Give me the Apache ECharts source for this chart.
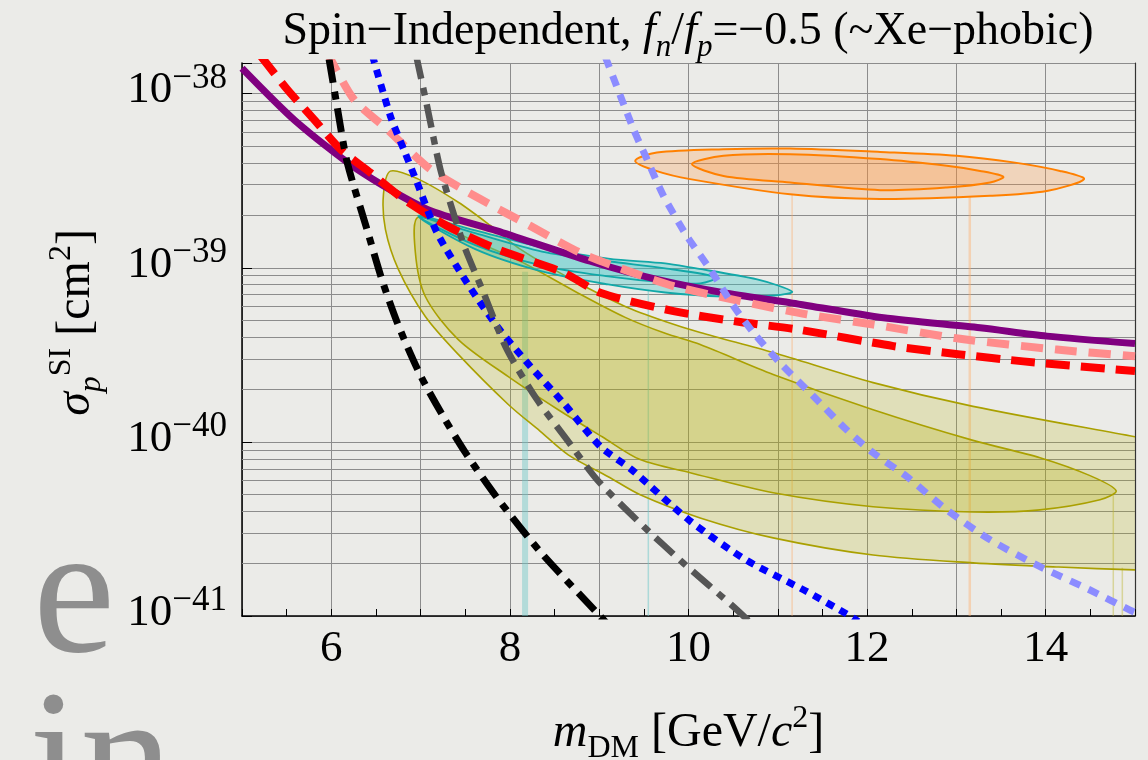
<!DOCTYPE html>
<html>
<head>
<meta charset="utf-8">
<script src="https://cdn.jsdelivr.net/npm/echarts@6/dist/echarts.min.js"></script>
<style>
html, body { margin:0; padding:0; background:#ebebe8; }
#chart { width:1148px; height:760px; }
</style>
</head>
<body>
<div id="chart"></div>
<script>
// ---------- axes ----------
const xRange = [5, 15];
const xTickLabels = [6, 8, 10, 12, 14];
const yRange = [1e-41, 1.5e-38];          // cm^2
const yMinorGrid = [
  2e-41, 3e-41, 4e-41, 5e-41, 6e-41, 7e-41, 8e-41, 9e-41,
  2e-40, 3e-40, 4e-40, 5e-40, 6e-40, 7e-40, 8e-40, 9e-40,
  2e-39, 3e-39, 4e-39, 5e-39, 6e-39, 7e-39, 8e-39, 9e-39
];
// plotting unit for the log axis (avoids float underflow in tick rounding)
const Y_UNIT = 1e-40;
const Y_UNIT_EXP = -40;

// ---------- exclusion curves [m_DM (GeV), sigma (cm^2)] ----------
const purpleLimit = [[5.0,1.40e-38],[5.597,6.98e-39],[6.29,3.68e-39],[7.07,2.17e-39],[7.855,1.63e-39],[8.9,1.09e-39],[9.646,8.57e-40],[10.392,7.19e-40],[11.138,6.30e-40],[12.183,5.16e-40],[13.265,4.52e-40],[14.012,4.05e-40],[15.0,3.67e-40]];
const redLimit = [[5.2,1.67e-38],[5.505,1.06e-38],[5.803,7.14e-39],[6.101,4.80e-39],[6.437,3.52e-39],[6.81,2.48e-39],[7.296,1.74e-39],[7.855,1.28e-39],[8.601,9.38e-40],[9.012,7.19e-40],[9.832,5.64e-40],[10.579,4.88e-40],[11.213,4.43e-40],[12.295,3.55e-40],[13.041,3.18e-40],[13.75,2.90e-40],[15.0,2.55e-40]];
const pinkLimit = [[5.95,1.74e-38],[6.25,9.31e-39],[6.624,6.25e-39],[7.109,3.68e-39],[7.668,2.48e-39],[8.228,1.74e-39],[8.788,1.22e-39],[9.272,9.79e-40],[9.832,7.85e-40],[10.579,6.43e-40],[11.325,5.40e-40],[12.071,4.72e-40],[13.041,3.91e-40],[14.124,3.39e-40],[15.0,3.10e-40]];
const blackLimit = [[5.975,1.58e-38],[6.064,8.51e-39],[6.176,4.07e-39],[6.40,1.66e-39],[6.568,8.51e-40],[6.75,4.68e-40],[7.0,2.40e-40],[7.25,1.41e-40],[7.5,8.71e-41],[7.855,4.79e-41],[8.34,2.34e-41],[8.993,1.02e-41],[9.1,8.9e-42]];
const grayLimit = [[6.95,1.66e-38],[7.072,8.51e-39],[7.221,3.68e-39],[7.389,1.90e-39],[7.501,1.28e-39],[7.705,7.19e-40],[7.967,3.39e-40],[8.303,1.75e-40],[8.639,1.03e-40],[8.975,6.07e-41],[9.496,3.27e-41],[9.944,2.01e-41],[10.504,1.13e-41],[10.7,9.1e-42]];
const blueLimit = [[6.46,1.66e-38],[6.661,7.46e-39],[6.81,4.80e-39],[6.96,3.09e-39],[7.184,1.59e-39],[7.52,8.20e-40],[7.855,4.62e-40],[8.228,2.72e-40],[8.601,1.67e-40],[9.012,9.42e-41],[9.364,6.92e-41],[10.007,3.55e-41],[10.649,2.09e-41],[11.292,1.41e-41],[11.81,1.0e-41],[11.9,9.3e-42]];
const lightBlueLimit = [[9.07,1.62e-38],[9.384,6.25e-39],[9.534,4.21e-39],[9.72,2.59e-39],[9.982,1.52e-39],[10.243,9.79e-40],[10.504,6.03e-40],[10.727,4.24e-40],[11.026,2.84e-40],[11.399,1.83e-40],[11.773,1.17e-40],[12.071,8.63e-41],[12.444,6.32e-41],[12.892,4.07e-41],[13.377,2.74e-41],[13.936,1.92e-41],[14.496,1.41e-41],[14.944,1.08e-41],[15.0,1.05e-41]];

// ---------- signal regions (closed contours) ----------
const oliveOuter = [[6.661,3.59e-39],[6.974,3.23e-39],[7.422,2.38e-39],[7.781,1.75e-39],[8.116,1.28e-39],[8.731,8.36e-40],[9.291,6.00e-40],[9.739,4.92e-40],[10.131,4.25e-40],[10.948,3.26e-40],[12.067,2.19e-40],[13.186,1.60e-40],[15.0,1.07e-40],[16.0,8.6e-41],[16.0,1.8e-41],[15.0,1.84e-41],[14.145,1.91e-41],[13.186,2.02e-41],[12.067,2.24e-41],[10.948,2.81e-41],[10.131,3.66e-41],[9.459,4.97e-41],[9.101,6.31e-41],[8.653,8.43e-41],[8.34,1.15e-40],[7.982,1.64e-40],[7.422,3.18e-40],[7.053,5.25e-40],[6.751,9.79e-40],[6.606,1.66e-39],[6.584,2.64e-39]];
const oliveInner = [[6.974,1.95e-39],[7.556,1.46e-39],[8.116,1.09e-39],[8.731,7.31e-40],[9.291,5.19e-40],[9.739,4.20e-40],[10.131,3.62e-40],[10.948,2.44e-40],[12.067,1.53e-40],[13.186,1.02e-40],[13.936,8.11e-41],[14.496,6.40e-41],[14.789,5.24e-41],[14.608,4.65e-41],[13.936,4.07e-41],[13.186,3.96e-41],[12.067,4.24e-41],[10.948,5.10e-41],[10.019,6.65e-41],[9.459,7.91e-41],[9.034,1.07e-40],[8.541,1.53e-40],[7.982,2.37e-40],[7.422,3.87e-40],[7.053,6.84e-40],[6.941,1.23e-39]];
const cyanOuter = [[6.974,1.98e-39],[7.612,1.64e-39],[8.359,1.31e-39],[9.101,1.13e-39],[9.739,1.06e-39],[10.019,1.005e-39],[10.769,8.57e-40],[11.16,7.3e-40],[10.97,6.93e-40],[10.388,6.84e-40],[9.739,7.21e-40],[9.101,8.02e-40],[8.359,9.53e-40],[7.612,1.28e-39]];
const cyanInner = [[6.997,1.95e-39],[7.612,1.58e-39],[8.359,1.24e-39],[9.101,1.09e-39],[9.739,9.93e-40],[10.311,8.81e-40],[10.132,8.13e-40],[9.739,8.24e-40],[9.101,8.93e-40],[8.359,1.03e-39],[7.612,1.35e-39]];
const orangeOuter = [[9.403,4.11e-39],[9.646,4.59e-39],[10.392,4.80e-39],[11.138,4.84e-39],[12.146,4.63e-39],[13.004,4.40e-39],[13.638,4.03e-39],[14.16,3.60e-39],[14.429,3.23e-39],[14.012,2.76e-39],[13.377,2.59e-39],[12.146,2.48e-39],[11.138,2.64e-39],[10.019,3.23e-39],[9.646,3.59e-39]];
const orangeInner = [[10.038,3.94e-39],[10.392,4.40e-39],[11.138,4.49e-39],[12.146,4.21e-39],[12.892,3.85e-39],[13.265,3.60e-39],[13.526,3.33e-39],[13.377,3.09e-39],[12.892,2.89e-39],[12.146,2.79e-39],[11.138,3.09e-39],[10.392,3.37e-39]];

// faint fill-edge drop lines: [m_DM, top sigma]
const cyanDrops = [[8.17, 9.5e-40], [9.55, 7.5e-40]];
const orangeDrops = [[11.16, 2.64e-39], [13.15, 2.54e-39]];
const oliveDrops = [[14.757, 5.1e-41], [14.858, 1.89e-41]];

const SERIF = '"Liberation Serif", "Times New Roman", serif';

function sc(pts) { return pts.map(function (p) { return [p[0], p[1] / Y_UNIT]; }); }

function polySeries(raw, fill, stroke, lw, z) {
  const pts = sc(raw);
  return {
    type: 'custom', coordinateSystem: 'cartesian2d', silent: true, animation: false, clip: true, z: z,
    data: pts, encode: { x: 0, y: 1 },
    renderItem: function (params, api) {
      if (params.dataIndex !== 0) return null;
      const points = pts.map(function (p) { return api.coord(p); });
      return { type: 'polygon', shape: { points: points, smooth: 0.3 },
               style: { fill: fill, stroke: stroke, lineWidth: lw } };
    }
  };
}
function curve(raw, color, width, dash, z) {
  return {
    type: 'line', data: sc(raw), showSymbol: false, smooth: 0.25, clip: true, z: z, silent: true,
    lineStyle: { color: color, width: width, type: dash || 'solid', cap: 'butt', join: 'round' }
  };
}
function drop(d, color, width) {
  return {
    type: 'line', data: sc([[d[0], d[1]], [d[0], yRange[0]]]), showSymbol: false, clip: true, z: 2, silent: true,
    lineStyle: { color: color, width: width }
  };
}
function tok(size, extra) {
  return Object.assign({ fontFamily: SERIF, fontSize: size, fontWeight: 'normal', color: '#000',
                         lineHeight: size, verticalAlign: 'bottom' }, extra || {});
}

const series = [
  { type: 'line', data: sc([[xRange[0], yRange[0]], [xRange[0] + 0.01, yRange[0]]]), silent: true, showSymbol: false,
    lineStyle: { width: 0, opacity: 0 }, z: 1,
    markLine: { silent: true, symbol: ['none','none'], z: 1, animation: false,
      label: { show: false },
      lineStyle: { color: '#8c8c8c', width: 1, type: 'solid', opacity: 1 },
      data: yMinorGrid.map(function (v) { return { yAxis: v / Y_UNIT }; }) } },
  drop(cyanDrops[0], 'rgba(110,200,200,0.45)', 6),
  drop(cyanDrops[1], 'rgba(110,200,200,0.5)', 1.5),
  drop(orangeDrops[0], 'rgba(255,170,100,0.4)', 1.5),
  drop(orangeDrops[1], 'rgba(255,170,100,0.4)', 2.5),
  drop(oliveDrops[0], 'rgba(190,185,60,0.45)', 1.5),
  drop(oliveDrops[1], 'rgba(190,185,60,0.45)', 1.5),
  polySeries(oliveOuter, 'rgba(180,175,0,0.2)', '#aaa000', 1.6, 3),
  polySeries(oliveInner, 'rgba(180,175,0,0.24)', '#aaa000', 1.6, 3),
  polySeries(cyanOuter, 'rgba(50,195,195,0.34)', '#12a8a8', 1.8, 3),
  polySeries(cyanInner, 'rgba(50,195,195,0.2)', '#12a8a8', 1.8, 3),
  polySeries(orangeOuter, 'rgba(255,145,50,0.25)', '#ff8000', 2, 3),
  polySeries(orangeInner, 'rgba(255,145,50,0.25)', '#ff8000', 2, 3),
  curve(purpleLimit, '#800080', 7, 'solid', 4),
  curve(redLimit, '#ff0000', 8, [24, 11], 5),
  curve(pinkLimit, '#ff8c8c', 8, [22, 12], 6),
  curve(blackLimit, '#000000', 7, [24, 9, 8, 9], 7),
  curve(blueLimit, '#0000ff', 7, [8, 7], 8),
  curve(grayLimit, '#555555', 6.5, [24, 9, 8, 9], 9),
  curve(lightBlueLimit, '#8c8cff', 7, [11, 9], 10)
];

const chart = echarts.init(document.getElementById('chart'), null, { renderer: 'canvas' });
chart.setOption({
  animation: false,
  backgroundColor: '#ebebe8',
  title: {
    text: '{a|Spin\u2212Independent, }{i|f}{u|n}{a|/}{i|f}{u|p}{a|=\u22120.5 (~Xe\u2212phobic)}',
    left: 683, top: 12, textAlign: 'center',
    textStyle: { fontWeight: 'normal', rich: {
      a: tok(46, { padding: [0,0,8,0] }),
      i: tok(46, { fontStyle: 'italic', padding: [0,0,8,0] }),
      u: tok(31, { fontStyle: 'italic' })
    } }
  },
  graphic: [
    { type: 'text', left: 33, top: 510, z: -10, silent: true,
      style: { text: 'e', font: '185px ' + SERIF, fill: '#8e8e8e' } },
    { type: 'text', left: 29, top: 676, z: -10, silent: true,
      style: { text: 'in', font: '185px ' + SERIF, fill: '#8e8e8e' } }
  ],
  grid: { left: 242, right: 13, top: 63, bottom: 144, show: false, containLabel: false, outerBoundsMode: 'none' },
  xAxis: {
    type: 'value', min: xRange[0], max: xRange[1], interval: 1,
    name: '{i|m}{u|DM}{a| [GeV/}{i|c}{s|2}{a|]}',
    nameLocation: 'middle', nameGap: 101, nameMoveOverlap: false,
    nameTextStyle: { rich: {
      a: tok(48, { padding: [0,0,8,0] }),
      i: tok(48, { fontStyle: 'italic', padding: [0,0,8,0] }),
      u: tok(32),
      s: tok(32, { padding: [0,0,30,0] })
    } },
    axisLine: { show: true, onZero: false, lineStyle: { color: '#000', width: 1.5 } },
    axisTick: { show: true, inside: true, length: 7, lineStyle: { color: '#000', width: 1 } },
    minorTick: { show: true, splitNumber: 2, length: 7, lineStyle: { color: '#000', width: 1 } },
    splitLine: { show: true, lineStyle: { color: '#8c8c8c', width: 1 } },
    axisLabel: {
      fontFamily: SERIF, fontSize: 45, color: '#000', margin: 11,
      formatter: function (v) { return xTickLabels.indexOf(v) >= 0 ? String(v) : ''; }
    }
  },
  yAxis: [{
    type: 'log', logBase: 10, min: yRange[0] / Y_UNIT, max: yRange[1] / Y_UNIT,
    name: '{i|\u03c3}{u|p}{s|SI}{a| [cm}{s|2}{a|]}',
    nameLocation: 'middle', nameGap: 134, nameRotate: 90, nameMoveOverlap: false,
    nameTextStyle: { padding: [0,0,0,34], rich: {
      a: tok(48, { padding: [0,0,8,0] }),
      i: tok(48, { fontStyle: 'italic', padding: [0,0,8,0] }),
      u: tok(32, { fontStyle: 'italic' }),
      s: tok(32, { padding: [0,0,30,0] })
    } },
    axisLine: { show: true, onZero: false, lineStyle: { color: '#000', width: 1.5 } },
    axisTick: { show: true, inside: true, length: 10, lineStyle: { color: '#000', width: 1 } },
    splitLine: { show: true, lineStyle: { color: '#8c8c8c', width: 1 } },
    axisLabel: {
      margin: 15,
      formatter: function (v) {
        const e = Math.log10(v), r = Math.round(e);
        if (!isFinite(e) || Math.abs(e - r) > 1e-6) return '';
        return '{b|10}{s|\u2212' + (-(r + Y_UNIT_EXP)) + '}';
      },
      rich: {
        b: tok(45, { padding: [0,0,3,0] }),
        s: tok(35, { padding: [0,0,20,0] })
      }
    }
  }, {
    type: 'log', logBase: 10, min: yRange[0] / Y_UNIT, max: yRange[1] / Y_UNIT, position: 'right',
    axisLine: { show: true, onZero: false, lineStyle: { color: '#333', width: 1.2 } },
    axisTick: { show: false }, axisLabel: { show: false }, splitLine: { show: false }
  }],
  series: series
});
</script>
</body>
</html>
